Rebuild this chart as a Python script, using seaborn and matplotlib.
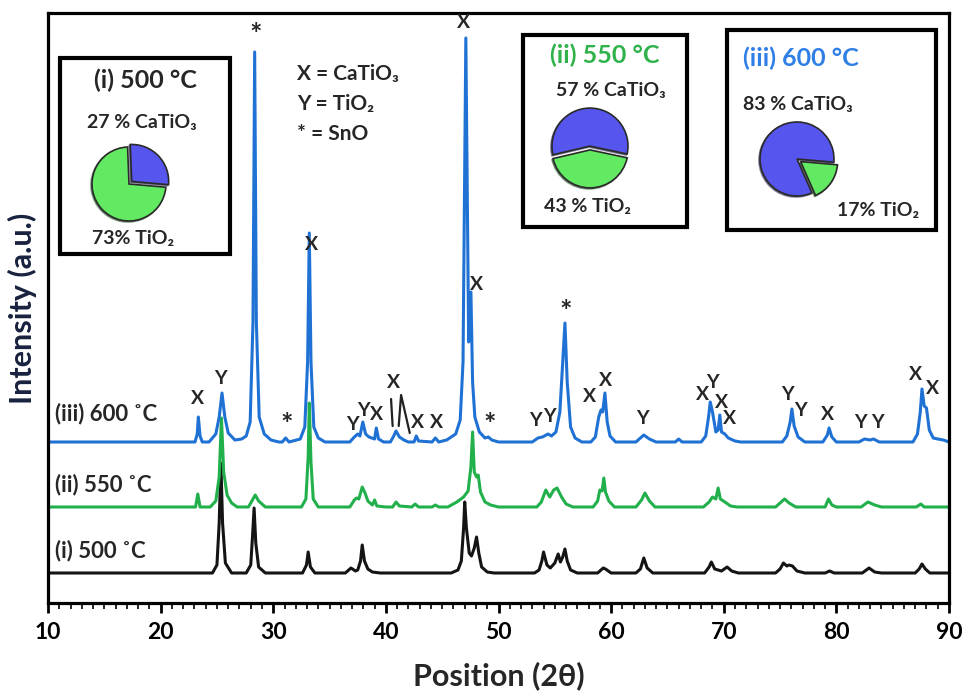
"""
XRD patterns of the samples calcined at 500, 550 and 600 C with
phase fractions shown as small pie charts.
"""

import matplotlib

matplotlib.use("Agg")
import matplotlib.pyplot as plt
from matplotlib.patches import Rectangle
from matplotlib.ticker import MultipleLocator
import pandas as pd
import seaborn as sns

# --- data (2theta, intensity a.u. above own baseline) ---
tt_500 = [10, 24.0, 24.6, 25.0, 25.2, 25.35, 25.5, 25.75, 26.3, 27.6, 28.0, 28.15, 28.3, 28.45, 28.7,
          29.3, 32.6, 32.95, 33.1, 33.3, 33.7, 36.4, 36.9, 37.3, 37.5, 37.75, 37.9, 38.1, 38.4, 38.8,
          39.5, 45.8, 46.4, 46.7, 46.9, 47.0, 47.15, 47.4, 47.6, 47.85, 48.05, 48.25, 48.5, 49.0, 49.6,
          53.2, 53.6, 53.85, 54.0, 54.3, 54.6, 55.0, 55.3, 55.5, 55.7, 55.9, 56.1, 56.4, 57.0, 58.8,
          59.3, 59.5, 60.0, 62.2, 62.6, 62.9, 63.2, 63.7, 68.3, 68.7, 68.9, 69.2, 69.8, 70.3, 70.7,
          71.3, 74.6, 75.0, 75.3, 75.6, 75.8, 76.1, 76.5, 77.2, 79.0, 79.4, 79.8, 82.3, 82.9, 83.4,
          84.0, 87.0, 87.35, 87.6, 87.9, 88.3, 90]
int_500 = [0, 0, 0, 8, 50, 110, 50, 10, 0, 0, 8, 35, 65, 30, 6,
           0, 0, 8, 21, 6, 0, 0, 5, 2, 3, 12, 28, 12, 4, 1,
           0, 0, 3, 12, 45, 71, 45, 20, 17, 25, 36, 20, 6, 1, 0,
           0, 3, 12, 21, 8, 5, 10, 19, 11, 16, 24, 12, 3, 0, 0,
           5, 4, 0, 0, 4, 15, 5, 0, 0, 6, 11, 4, 2, 6, 2,
           0, 0, 4, 10, 7, 8, 7, 2, 0, 0, 2, 0, 0, 5, 1,
           0, 0, 4, 9, 4, 0, 0]

tt_550 = [10, 23.1, 23.3, 23.5, 24.4, 24.9, 25.2, 25.4, 25.6, 25.9, 26.3, 26.8, 27.8, 28.2, 28.4,
          28.7, 29.3, 32.5, 32.9, 33.1, 33.2, 33.35, 33.55, 34.0, 36.8, 37.2, 37.4, 37.6, 37.9, 38.15,
          38.4, 38.8, 39.0, 39.2, 40.0, 40.6, 40.9, 41.2, 42.3, 42.6, 42.9, 44.1, 44.4, 44.7, 45.5,
          46.3, 46.9, 47.3, 47.55, 47.7, 47.85, 48.05, 48.2, 48.4, 48.8, 49.3, 50.0, 53.4, 53.8, 54.2,
          54.55, 54.9, 55.2, 55.6, 56.0, 56.6, 58.4, 58.8, 59.0, 59.2, 59.35, 59.5, 59.8, 60.3, 62.2,
          62.7, 63.0, 63.4, 63.9, 68.2, 68.7, 69.0, 69.3, 69.5, 69.7, 70.1, 70.6, 71.2, 74.6, 75.0,
          75.4, 75.8, 76.4, 79.0, 79.3, 79.6, 80.0, 82.2, 82.8, 83.4, 84.0, 87.1, 87.5, 87.8, 90]
int_550 = [0, 0, 13, 0, 0, 6, 30, 89, 35, 12, 4, 0, 0, 8, 12,
           6, 0, 0, 8, 50, 104, 45, 8, 0, 0, 7, 9, 8, 20, 14,
           6, 2, 7, 1, 0, 0, 5, 1, 0, 3, 0, 0, 2, 0, 0,
           5, 10, 16, 40, 75, 35, 30, 32, 15, 5, 2, 0, 0, 5, 17,
           10, 17, 19, 10, 3, 0, 0, 6, 17, 16, 29, 15, 6, 0, 0,
           7, 14, 6, 0, 0, 5, 10, 8, 19, 8, 5, 1, 0, 0, 4,
           8, 4, 0, 0, 8, 2, 0, 0, 5, 2, 0, 0, 3, 0, 0]

tt_600 = [10, 23.05, 23.25, 23.35, 23.5, 23.7, 24.3, 24.9, 25.2, 25.45, 25.7, 26.0, 26.6, 27.2, 27.6,
          27.95, 28.2, 28.35, 28.5, 28.75, 29.2, 29.8, 30.5, 30.8, 31.1, 31.4, 32.4, 32.8, 33.05, 33.2,
          33.35, 33.6, 34.0, 34.6, 36.8, 37.2, 37.5, 37.7, 37.95, 38.2, 38.5, 39.0, 39.15, 39.35, 39.8,
          40.4, 40.7, 40.9, 41.2, 41.6, 42.0, 42.5, 42.7, 42.9, 44.1, 44.4, 44.7, 45.4, 46.2, 46.6,
          46.85, 47.1, 47.35, 47.55, 47.7, 47.9, 48.3, 48.8, 49.1, 49.4, 50.0, 53.0, 53.5, 53.9, 54.4,
          54.7, 55.1, 55.45, 55.7, 55.9, 56.1, 56.4, 56.8, 57.4, 58.2, 58.6, 58.9, 59.1, 59.25, 59.45,
          59.65, 59.9, 60.4, 62.2, 62.6, 62.9, 63.4, 64.0, 65.7, 66.0, 66.3, 68.0, 68.4, 68.65, 68.8,
          69.0, 69.3, 69.5, 69.65, 69.8, 70.1, 70.4, 71.0, 71.5, 75.2, 75.6, 75.9, 76.05, 76.25, 76.6,
          77.2, 78.8, 79.2, 79.35, 79.6, 80.0, 82.0, 82.5, 83.0, 83.3, 83.8, 86.8, 87.2, 87.45, 87.6,
          87.8, 88.0, 88.25, 88.6, 89.0, 89.5, 90]
int_600 = [0, 0, 8, 25, 6, 0, 0, 8, 25, 49, 25, 9, 2, 3, 6,
           20, 120, 390, 120, 25, 8, 2, 0, 0, 4, 0, 3, 15, 80, 209,
           80, 15, 4, 0, 0, 5, 8, 6, 20, 8, 5, 3, 14, 3, 0,
           0, 6, 11, 5, 2, 0, 0, 6, 1, 0, 4, 0, 2, 8, 22,
           80, 404, 100, 150, 60, 25, 10, 4, 5, 2, 0, 0, 4, 5, 8,
           6, 10, 30, 80, 119, 60, 15, 4, 0, 0, 5, 25, 32, 30, 49,
           20, 6, 0, 0, 4, 7, 3, 0, 0, 3, 0, 0, 6, 25, 40,
           30, 10, 12, 27, 10, 8, 4, 1, 0, 0, 6, 20, 33, 16, 5,
           0, 0, 7, 14, 5, 0, 0, 3, 2, 3, 0, 0, 8, 30, 53,
           36, 34, 12, 4, 3, 2, 0]

samples = ["(i) 500 ˚C", "(ii) 550 ˚C", "(iii) 600 ˚C"]
baselines = [30, 96, 161]
line_colors = ["#141414", "#21b04b", "#1f72d4"]

# phase fractions (CaTiO3, TiO2) in %
catio3_pct = [27, 57, 83]
tio2_pct = [73, 43, 17]

# peak labels on the 600 C pattern: (2theta, height, label)
peak_labels = [
    (28.4, 568, "*"), (46.9, 581, "X"), (33.38, 359, "X"), (48.04, 318, "X"), (55.96, 291, "*"),
    (23.24, 205, "X"), (25.29, 224, "Y"), (31.16, 178, "*"), (37.02, 178, "Y"), (38.0, 193, "Y"),
    (39.16, 188, "X"), (40.67, 221, "X"), (42.8, 181, "X"), (44.49, 181, "X"), (49.2, 178, "*"),
    (53.29, 183, "Y"), (54.53, 186, "Y"), (58.09, 206, "X"), (59.51, 223, "X"), (62.8, 185, "Y"),
    (68.13, 208, "X"), (69.02, 220, "Y"), (69.82, 201, "X"), (70.53, 184, "X"), (75.69, 208, "Y"),
    (76.84, 193, "Y"), (79.24, 189, "X"), (82.18, 180, "Y"), (83.69, 180, "Y"), (87.07, 229, "X"),
    (88.58, 214, "X"),
]

W, H = 966, 697

sns.set_theme(style="ticks")
plt.rcParams["font.family"] = ["Lato", "DejaVu Sans"]
plt.rcParams["font.weight"] = "bold"

frames = []
for name, tt, inten, base in zip(samples, [tt_500, tt_550, tt_600],
                                 [int_500, int_550, int_600], baselines):
    frames.append(pd.DataFrame({"two_theta": tt,
                                "intensity": [v + base for v in inten],
                                "sample": name}))
df = pd.concat(frames, ignore_index=True)

fig = plt.figure(figsize=(W / 100, H / 100), dpi=100)
ax = fig.add_axes([48 / W, 94 / H, 901 / W, 590 / H])

sns.lineplot(data=df, x="two_theta", y="intensity", hue="sample",
             palette=dict(zip(samples, line_colors)), estimator=None,
             linewidth=2.2, legend=False, ax=ax)

ax.set_xlim(10, 90)
ax.set_ylim(0, 590)
ax.xaxis.set_major_locator(MultipleLocator(10))
ax.xaxis.set_minor_locator(MultipleLocator(1))
ax.tick_params(axis="x", which="major", direction="out", length=7, width=2,
               labelsize=16.5, pad=7, colors="black")
ax.tick_params(axis="x", which="minor", direction="out", length=4, width=1.4)
ax.tick_params(axis="y", left=False, labelleft=False)
for lab in ax.get_xticklabels():
    lab.set_fontweight("bold")
for sp in ax.spines.values():
    sp.set_visible(True)
    sp.set_linewidth(2.3)
    sp.set_color("black")

ax.set_xlabel("Position (2θ)", fontsize=22, fontweight="bold", labelpad=13)
ax.set_ylabel("Intensity (a.u.)", fontsize=22, fontweight="bold", color="#18213d", labelpad=8)

# sample names above each trace
for name, base in zip(samples, baselines):
    ax.text(10.6, base + 22 + (6 if name.startswith("(iii)") else 0), name,
            fontsize=16, fontweight="bold", ha="left", va="center")

for x, y, lab in peak_labels:
    ax.text(x, y, lab, fontsize=21 if lab == "*" else 14, fontweight="bold",
            ha="center", va="center")

# bracket strokes near 41 deg
ax.plot([40.46, 40.60], [204, 177], color="#222", lw=1.6)
ax.plot([41.14, 41.35, 42.12], [177, 208, 170], color="#222", lw=1.6)

# phase legend
for i, txt in enumerate(["X = CaTiO₃", "Y = TiO₂", "* = SnO"]):
    fig.text(297 / W, 1 - (74 + 30 * i) / H, txt, fontsize=15, fontweight="bold",
             ha="left", va="center")


def px_box(x0, y0, x1, y1):
    fig.patches.append(Rectangle((x0 / W, 1 - y1 / H), (x1 - x0) / W, (y1 - y0) / H,
                                 transform=fig.transFigure, fill=False,
                                 edgecolor="black", linewidth=3, zorder=5))


def px_pie(cx, cy, r, values, colors, start, explode):
    s = 2.6 * r
    pax = fig.add_axes([(cx - s / 2) / W, 1 - (cy + s / 2) / H, s / W, s / H])
    pax.pie(values, colors=colors, startangle=start, explode=explode, shadow=True,
            wedgeprops={"edgecolor": "#2a2a2a", "linewidth": 1.2})
    pax.set_xlim(-1.3, 1.3)
    pax.set_ylim(-1.3, 1.3)
    pax.set_aspect("auto")
    pax.axis("off")


pie_blue, pie_green = "#5656ee", "#62ea62"

# box (i)
px_box(60, 58, 230, 254)
fig.text(145 / W, 1 - 80 / H, "(i) 500 °C", fontsize=18, fontweight="bold", ha="center", va="center")
fig.text(142 / W, 1 - 123 / H, f"{catio3_pct[0]} % CaTiO₃", fontsize=14, fontweight="bold",
         ha="center", va="center")
fig.text(133 / W, 1 - 238 / H, f"{tio2_pct[0]}% TiO₂", fontsize=14, fontweight="bold",
         ha="center", va="center")
px_pie(129, 184, 37, [catio3_pct[0], tio2_pct[0]], [pie_blue, pie_green], -5, [0.1, 0])

# box (ii)
px_box(523, 35, 687, 227)
fig.text(605 / W, 1 - 55 / H, "(ii) 550 °C", fontsize=18, fontweight="bold", color="#2fb24a",
         ha="center", va="center")
fig.text(611 / W, 1 - 91 / H, f"{catio3_pct[1]} % CaTiO₃", fontsize=14, fontweight="bold",
         ha="center", va="center")
fig.text(588 / W, 1 - 207 / H, f"{tio2_pct[1]} % TiO₂", fontsize=14, fontweight="bold",
         ha="center", va="center")
px_pie(590, 148, 38, [catio3_pct[1], tio2_pct[1]], [pie_blue, pie_green], -12, [0.05, 0.05])

# box (iii)
px_box(727, 30, 936, 230)
fig.text(801 / W, 1 - 58 / H, "(iii) 600 °C", fontsize=18, fontweight="bold", color="#2f7fe6",
         ha="center", va="center")
fig.text(798 / W, 1 - 104 / H, f"{catio3_pct[2]} % CaTiO₃", fontsize=14, fontweight="bold",
         ha="center", va="center")
fig.text(878 / W, 1 - 211 / H, f"{tio2_pct[2]}% TiO₂", fontsize=14, fontweight="bold",
         ha="center", va="center")
px_pie(797, 159, 37, [catio3_pct[2], tio2_pct[2]], [pie_blue, pie_green], -5, [0, 0.12])

fig.savefig("out.png", dpi=100)
